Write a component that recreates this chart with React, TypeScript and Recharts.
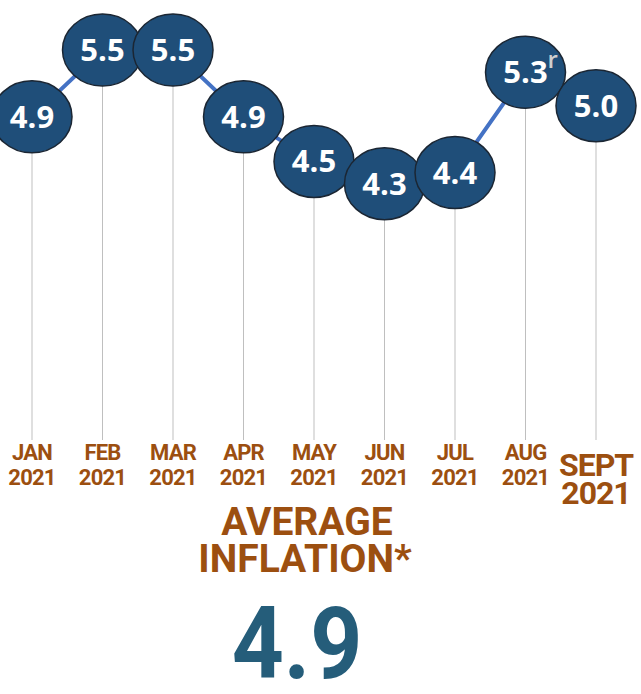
import React from 'react';
import { LineChart, Line, XAxis, YAxis } from 'recharts';

const months = ['JAN', 'FEB', 'MAR', 'APR', 'MAY', 'JUN', 'JUL', 'AUG', 'SEPT'];
const years = ['2021', '2021', '2021', '2021', '2021', '2021', '2021', '2021', '2021'];
const rates = [4.9, 5.5, 5.5, 4.9, 4.5, 4.3, 4.4, 5.3, 5.0];
const revised = [false, false, false, false, false, false, false, true, false];

const averageTitle = ['AVERAGE', 'INFLATION*'];
const averageValue = '4.9';

const data = months.map((m, i) => ({ month: m, year: years[i], rate: rates[i], revised: revised[i] }));

const BROWN = '#9c4f10';
const NAVY = '#1f4e79';
const PLOT_BOTTOM = 440;

const BubbleDot = (props: any) => {
  const { cx, cy, payload, index } = props;
  if (cx == null || cy == null) return null;
  return (
    <g key={`dot-${index}`}>
      <line x1={cx} x2={cx} y1={cy} y2={PLOT_BOTTOM} stroke="#bfbfbf" strokeWidth={1} />
      <ellipse cx={cx} cy={cy} rx={40} ry={36} fill={NAVY} stroke="#1b2633" strokeWidth={1.5} />
      <text x={cx} y={cy + 11} textAnchor="middle" fill="#fff" fontFamily="'Open Sans', sans-serif" fontWeight={700} fontSize={31}>
        {payload.rate.toFixed(1)}
      </text>
      {payload.revised && (
        <text x={cx + 22} y={cy - 4} fill="#cfcfcf" fontFamily="'Open Sans', sans-serif" fontWeight={600} fontSize={24}>
          r
        </text>
      )}
    </g>
  );
};

const MonthTick = (props: any) => {
  const { x, payload, index } = props;
  const last = index === months.length - 1;
  const size = last ? 32 : 22;
  const ls = last ? -1 : -0.8;
  return (
    <g>
      <text x={x} y={last ? 476 : 460} textAnchor="middle" fill={BROWN} fontFamily="Roboto, sans-serif" fontWeight={700} fontSize={size} letterSpacing={ls}>
        {payload.value}
      </text>
      <text x={x} y={last ? 504 : 485} textAnchor="middle" fill={BROWN} fontFamily="Roboto, sans-serif" fontWeight={700} fontSize={size} letterSpacing={ls}>
        {years[index]}
      </text>
    </g>
  );
};

const App = () => {
  return (
    <div style={{ position: 'relative', width: 641, height: 694, background: '#fff' }}>
      <style>{'body{margin:0}'}</style>
      <LineChart width={641} height={694} data={data} margin={{ top: 50, right: 45, bottom: 194, left: 32 }}>
        <XAxis dataKey="month" axisLine={false} tickLine={false} tickSize={0} height={60} interval={0} tick={<MonthTick />} />
        <YAxis hide domain={[2, 5.5]} type="number" />
        <Line dataKey="rate" stroke="#4472c4" strokeWidth={4} dot={<BubbleDot />} activeDot={false} isAnimationActive={false} />
      </LineChart>
      <svg width={641} height={694} style={{ position: 'absolute', left: 0, top: 0, pointerEvents: 'none' }}>
        <text x={307} y={535} textAnchor="middle" fill={BROWN} fontFamily="Roboto, sans-serif" fontWeight={700} fontSize={39}>
          {averageTitle[0]}
        </text>
        <text x={305} y={572} textAnchor="middle" fill={BROWN} fontFamily="Roboto, sans-serif" fontWeight={700} fontSize={39}>
          {averageTitle[1]}
        </text>
        <g transform="translate(297,678) scale(0.9,1)">
          <text x={0} y={0} textAnchor="middle" fill="#255d7a" fontFamily="Roboto, sans-serif" fontWeight={700} fontSize={101}>
            {averageValue}
          </text>
        </g>
      </svg>
    </div>
  );
};

export default App;
